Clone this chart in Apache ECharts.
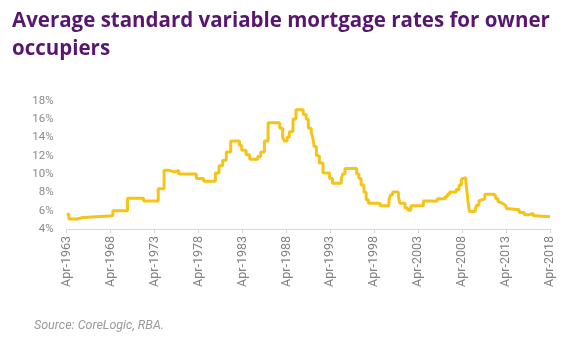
<!DOCTYPE html>
<html>
<head>
<meta charset="utf-8">
<script src="https://cdn.jsdelivr.net/npm/echarts@6/dist/echarts.min.js"></script>
<style>
  html, body { margin: 0; padding: 0; background: #fff; }
  #chart { width: 580px; height: 352px; }
</style>
</head>
<body>
<div id="chart"></div>
<script>
// change points: month the rate moved, and the new rate (%)
const changeDates = [
  '1963-04', '1963-07', '1964-06', '1965-02', '1968-07', '1970-03', '1972-01',
  '1973-09', '1974-05', '1975-01', '1975-07', '1976-01', '1978-01', '1978-11',
  '1980-03', '1980-08', '1981-01', '1981-06', '1981-12', '1982-12', '1983-03',
  '1983-09', '1984-02', '1985-01', '1985-05', '1985-10', '1986-03', '1987-07',
  '1987-11', '1988-01', '1988-05', '1988-08', '1989-01', '1989-05', '1990-03',
  '1990-07', '1990-10', '1991-02', '1991-04', '1991-06', '1991-09', '1992-01',
  '1992-06', '1993-03', '1993-07', '1994-07', '1994-09', '1994-12', '1996-04',
  '1996-07', '1996-10', '1997-02', '1997-05', '1997-08', '1998-12', '1999-12',
  '2000-02', '2000-05', '2001-01', '2001-03', '2001-10', '2002-02', '2002-06',
  '2003-11', '2005-06', '2006-05', '2006-08', '2006-11', '2007-08', '2007-12',
  '2008-03', '2008-05', '2008-09', '2008-10', '2008-12', '2009-02', '2009-10',
  '2009-12', '2010-03', '2010-05', '2010-11', '2011-11', '2012-02', '2012-05',
  '2012-07', '2012-11', '2013-03', '2013-05', '2013-08', '2014-10', '2015-05',
  '2015-11', '2016-05', '2016-08', '2018-04'
];
const rates = [
  5.6, 5.1, 5.25, 5.45, 6.0, 7.35, 7.05,
  8.4, 10.4, 10.2, 10.4, 10.0, 9.5, 9.2,
  10.1, 10.9, 11.5, 12.4, 13.6, 13.1, 12.6,
  12.1, 11.6, 11.9, 12.4, 13.6, 15.6, 15.0,
  14.0, 13.6, 14.0, 14.6, 16.0, 17.0, 16.5,
  16.0, 15.0, 14.5, 14.0, 13.0, 12.0, 11.2,
  10.1, 9.5, 9.0, 9.5, 10.0, 10.6, 10.0,
  9.5, 8.8, 8.0, 7.2, 6.8, 6.55, 7.1,
  7.7, 8.05, 7.5, 6.8, 6.3, 6.05, 6.55,
  7.05, 7.3, 7.55, 7.8, 8.05, 8.3, 8.8,
  9.45, 9.6, 9.3, 8.5, 7.0, 5.9, 6.2,
  6.6, 7.1, 7.3, 7.8, 7.6, 7.3, 7.0,
  6.8, 6.6, 6.45, 6.2, 6.1, 5.8, 5.55,
  5.7, 5.45, 5.35, 5.3
];
const startYear = 1963; // axis starts Apr-1963
const yTicks = [4, 6, 8, 10, 12, 14, 16, 18];

// months since Apr-1963
function monthIndex(s) {
  const p = s.split('-');
  return (parseInt(p[0]) - startYear) * 12 + (parseInt(p[1]) - 4);
}

const seriesData = changeDates.map((d, i) => [monthIndex(d), rates[i]]);

const chart = echarts.init(document.getElementById('chart'));

chart.setOption({
  animation: false,
  title: {
    text: 'Average standard variable mortgage rates for owner\noccupiers',
    left: 7,
    top: 2,
    textStyle: {
      color: '#58176f',
      fontSize: 20.5,
      fontWeight: 'bold',
      fontFamily: 'Open Sans',
      lineHeight: 28
    }
  },
  grid: {
    left: 66.7,
    right: 30,
    top: 100.7,
    bottom: 123
  },
  xAxis: {
    type: 'value',
    min: 0,
    max: 660,
    interval: 60,
    splitLine: {show: false},
    axisLine: {lineStyle: {color: '#d9d9d9'}},
    axisTick: {show: true, length: 4, lineStyle: {color: '#d9d9d9'}},
    axisLabel: {
      rotate: 90,
      margin: 7,
      color: '#808080',
      fontSize: 12.5,
      fontFamily: 'Roboto',
      formatter: (v) => 'Apr-' + (startYear + v / 12)
    }
  },
  yAxis: {
    type: 'value',
    min: yTicks[0],
    max: yTicks[yTicks.length - 1],
    interval: 2,
    splitLine: {show: false},
    axisLine: {show: false},
    axisTick: {show: false},
    axisLabel: {
      color: '#8a8a8a',
      fontSize: 11.5,
      fontFamily: 'Roboto',
      margin: 13,
      formatter: '{value}%'
    }
  },
  series: [{
    type: 'line',
    step: 'end',
    data: seriesData,
    showSymbol: false,
    lineStyle: {color: '#f6c416', width: 3},
    itemStyle: {color: '#f6c416'}
  }],
  graphic: [{
    type: 'text',
    left: 34,
    top: 319,
    style: {
      text: 'Source: CoreLogic, RBA.',
      fill: '#9a9a9a',
      font: 'italic 12.5px Roboto'
    }
  }]
});
</script>
</body>
</html>
